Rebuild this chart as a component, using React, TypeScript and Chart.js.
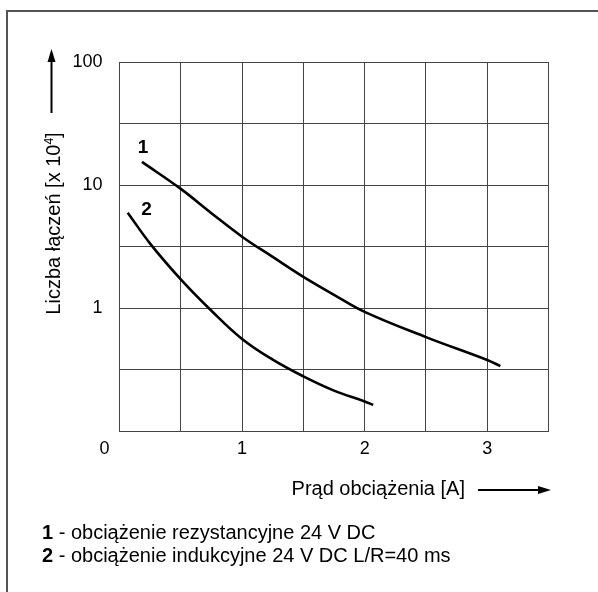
import React, { useEffect, useRef } from "react";
import { Chart, registerables } from "chart.js";

Chart.register(...registerables);

// ---- data ----
const current1 = [0.183, 0.5, 0.75, 1.0, 1.25, 1.5, 1.75, 2.0, 2.5, 3.0, 3.107];
const cycles1 = [15.4, 9.3, 5.9, 3.8, 2.6, 1.79, 1.28, 0.93, 0.58, 0.378, 0.337];

const current2 = [0.067, 0.25, 0.5, 0.75, 1.0, 1.25, 1.5, 1.75, 2.0, 2.07];
const cycles2 = [5.96, 3.34, 1.71, 0.95, 0.56, 0.38, 0.278, 0.213, 0.174, 0.163];

const xGridValues = [0, 0.5, 1, 1.5, 2, 2.5, 3, 3.5];
const xTickLabels: Record<string, string> = { "0": "0\u2007\u2007\u2007", "1": "1", "2": "2", "3": "3" };
const yGridValues = [0.1, 0.316, 1, 3.16, 10, 31.6, 100];
const yTickLabels: Record<string, string> = { "1": "1", "10": "10", "100": "100" };

const seriesNames = ["1", "2"];
const legendTexts = [
  " - obciążenie rezystancyjne 24 V DC",
  " - obciążenie indukcyjne 24 V DC L/R=40 ms",
];
const yTitle = "Liczba łączeń [x 10";
const yTitleSup = "4";
const yTitleEnd = "]";
const xTitle = "Prąd obciążenia [A]";

const FONT = "'Liberation Sans', Arial, sans-serif";
const FS = 20;
const TICK_FS = 18;

const decorPlugin = {
  id: "decor",
  afterDraw(chart: any) {
    const ctx = chart.ctx as CanvasRenderingContext2D;
    ctx.save();
    ctx.fillStyle = "#000";
    ctx.strokeStyle = "#000";

    // curve labels
    ctx.font = `bold 19px ${FONT}`;
    ctx.textAlign = "center";
    ctx.textBaseline = "middle";
    ctx.fillText(seriesNames[0], 143, 148);
    ctx.fillText(seriesNames[1], 146.5, 210);

    // y title (rotated)
    ctx.save();
    ctx.translate(60, 223.5);
    ctx.rotate(-Math.PI / 2);
    ctx.font = `${FS}px ${FONT}`;
    const w1 = ctx.measureText(yTitle).width;
    const supFont = `${Math.round(FS * 0.6)}px ${FONT}`;
    ctx.font = supFont;
    const w2 = ctx.measureText(yTitleSup).width;
    ctx.font = `${FS}px ${FONT}`;
    const w3 = ctx.measureText(yTitleEnd).width;
    const total = w1 + w2 + w3;
    const x0 = -total / 2;
    ctx.textAlign = "left";
    ctx.textBaseline = "alphabetic";
    ctx.fillText(yTitle, x0, 0);
    ctx.font = supFont;
    ctx.fillText(yTitleSup, x0 + w1, -7);
    ctx.font = `${FS}px ${FONT}`;
    ctx.fillText(yTitleEnd, x0 + w1 + w2, 0);
    ctx.restore();

    // y arrow
    ctx.lineWidth = 2;
    ctx.beginPath();
    ctx.moveTo(51.5, 113);
    ctx.lineTo(51.5, 58);
    ctx.stroke();
    ctx.beginPath();
    ctx.moveTo(51.5, 49);
    ctx.lineTo(47.5, 62);
    ctx.lineTo(55.5, 62);
    ctx.closePath();
    ctx.fill();

    // x title
    ctx.font = `${FS}px ${FONT}`;
    ctx.textAlign = "right";
    ctx.textBaseline = "middle";
    ctx.fillText(xTitle, 465, 489);
    // x arrow
    ctx.beginPath();
    ctx.moveTo(478, 490);
    ctx.lineTo(540, 490);
    ctx.stroke();
    ctx.beginPath();
    ctx.moveTo(551, 490);
    ctx.lineTo(538, 486);
    ctx.lineTo(538, 494);
    ctx.closePath();
    ctx.fill();

    // legend text
    ctx.textAlign = "left";
    const ys = [533, 556];
    for (let i = 0; i < 2; i++) {
      ctx.font = `bold ${FS}px ${FONT}`;
      ctx.fillText(seriesNames[i], 42, ys[i]);
      const wn = ctx.measureText(seriesNames[i]).width;
      ctx.font = `${FS}px ${FONT}`;
      ctx.fillText(legendTexts[i], 42 + wn, ys[i]);
    }
    ctx.restore();
  },
};

export default function App() {
  const ref = useRef<HTMLCanvasElement | null>(null);
  useEffect(() => {
    if (!ref.current) return;
    const chart = new Chart(ref.current, {
      type: "line",
      data: {
        datasets: [
          {
            label: seriesNames[0],
            data: current1.map((x, i) => ({ x, y: cycles1[i] })),
            borderColor: "#000",
            borderWidth: 2.6,
            pointRadius: 0,
            tension: 0.4,
            fill: false,
          },
          {
            label: seriesNames[1],
            data: current2.map((x, i) => ({ x, y: cycles2[i] })),
            borderColor: "#000",
            borderWidth: 2.6,
            pointRadius: 0,
            tension: 0.4,
            fill: false,
          },
        ],
      },
      options: {
        animation: false,
        responsive: false,
        devicePixelRatio: 1,
        layout: { padding: { top: 62, right: 49.5, left: 0, bottom: 0 } },
        plugins: { legend: { display: false }, tooltip: { enabled: false } },
        scales: {
          x: {
            type: "linear",
            min: 0,
            max: 3.5,
            afterBuildTicks: (s: any) => {
              s.ticks = xGridValues.map((v) => ({ value: v }));
            },
            afterFit: (s: any) => {
              s.height = 592 - 431;
            },
            grid: { color: "#444", lineWidth: 1, drawTicks: false },
            border: { color: "#444", width: 1 },
            ticks: {
              padding: 7,
              maxRotation: 0,
              autoSkip: false,
              color: "#000",
              font: { family: FONT, size: TICK_FS },
              callback: (v: any) => xTickLabels[String(v)] ?? "",
            },
          },
          y: {
            type: "logarithmic",
            min: 0.1,
            max: 100,
            afterBuildTicks: (s: any) => {
              s.ticks = yGridValues.map((v) => ({ value: v }));
            },
            afterFit: (s: any) => {
              s.width = 119.5;
            },
            grid: { color: "#444", lineWidth: 1, drawTicks: false },
            border: { color: "#444", width: 1 },
            ticks: {
              padding: 17,
              autoSkip: false,
              color: "#000",
              font: { family: FONT, size: TICK_FS },
              callback: (v: any) => yTickLabels[String(v)] ?? "",
            },
          },
        },
      },
      plugins: [decorPlugin],
    } as any);
    return () => chart.destroy();
  }, []);

  return (
    <div style={{ position: "fixed", left: 0, top: 0, width: 598, height: 592, background: "#fff" }}>
      <div
        style={{
          position: "absolute",
          left: 6,
          top: 10,
          width: 620,
          height: 620,
          borderLeft: "2px solid #555",
          borderTop: "2px solid #555",
        }}
      />
      <canvas ref={ref} width={598} height={592} style={{ position: "absolute", left: 0, top: 0 }} />
    </div>
  );
}
